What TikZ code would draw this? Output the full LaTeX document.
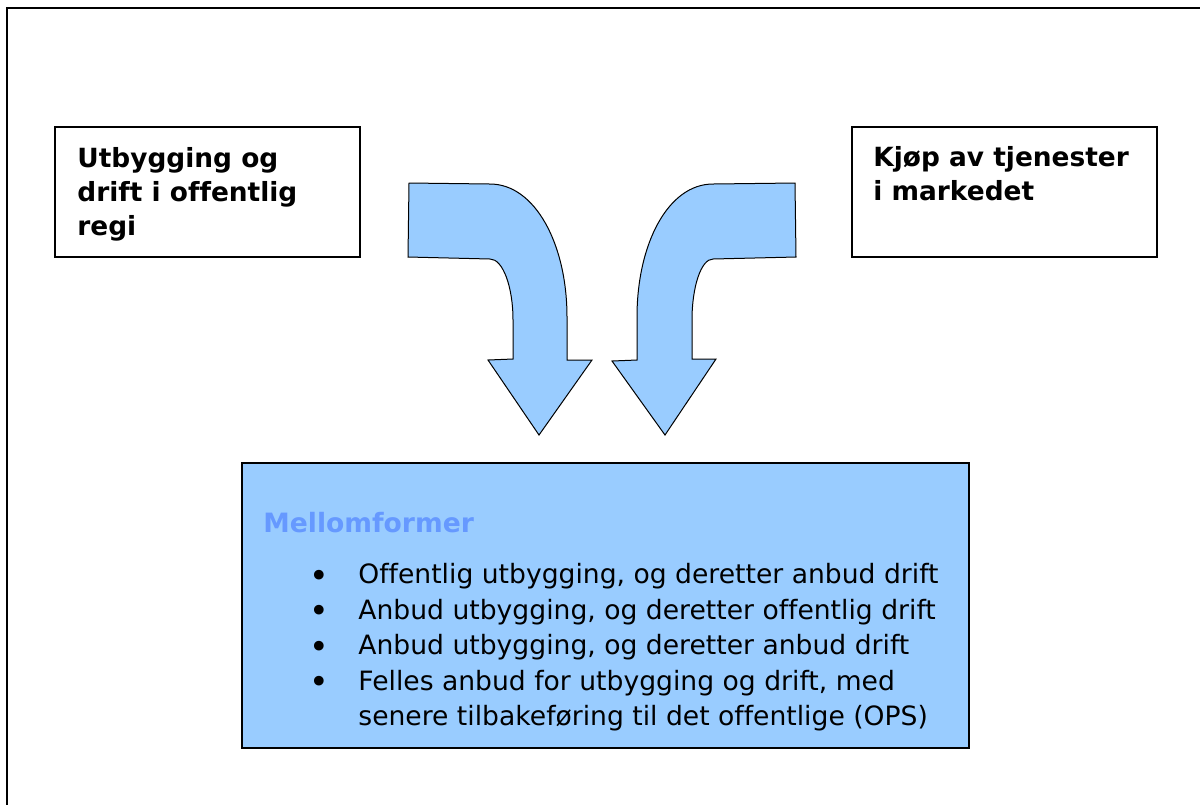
\documentclass[tikz,border=0pt]{standalone}
\usepackage{fontspec}
\setmainfont[Ligatures=NoCommon]{DejaVu Sans}

\definecolor{arrowblue}{HTML}{99CCFF}
\definecolor{titleblue}{HTML}{6699FF}

\newcommand{\bul}{\makebox[24.5pt][l]{\raisebox{-1.8pt}{\scalebox{1.25}{\textbullet}}}}

\tikzset{
  box/.style={draw=black, line width=0.75pt, rectangle, inner sep=0pt, anchor=north west},
  boxtext/.style={font=\bfseries\fontsize{13.2}{17}\selectfont, align=left, anchor=north west, inner sep=0pt},
  listtext/.style={font=\fontsize{13.3}{17.75}\selectfont, align=left, anchor=north west, inner sep=0pt},
  bendarrow/.style={draw=black, fill=arrowblue, line width=0.5pt, line join=miter},
}

\begin{document}
\begin{tikzpicture}[x=0.5pt, y=-0.5pt]
  \useasboundingbox (0,0) rectangle (1200,805);
  \draw[line width=1pt] (1200,8) -- (7,8) -- (7,805);

  \node[box, minimum width=152.5pt, minimum height=65pt] (offentlig) at (54,126) {};
  \node[boxtext] (offentligtext) at (77,147) {Utbygging og\\drift i offentlig\\regi};

  \node[box, minimum width=152.5pt, minimum height=65pt] (marked) at (851,126) {};
  \node[boxtext] (markedtext) at (873,146) {Kjøp av tjenester\\i markedet};

  \filldraw[bendarrow] (409,183) -- (490,184)
    .. controls (535,184) and (567,244) .. (567,317) -- (567,360) -- (592,360)
    -- (539,435) -- (488,360) -- (513,359) -- (513,320)
    .. controls (513,287) and (503,259) .. (490,259) -- (408,257) -- cycle;

  \filldraw[bendarrow] (795,183) -- (713,184)
    .. controls (668,184) and (637,244) .. (637,317) -- (637,360) -- (612,361)
    -- (665,435) -- (716,359) -- (692,359) -- (692,320)
    .. controls (692,287) and (701,259) .. (713,259) -- (796,257) -- cycle;

  \node[box, fill=arrowblue, minimum width=363.5pt, minimum height=142.5pt] (mellom) at (241,462) {};
  \node[boxtext, font=\bfseries\fontsize{13.3}{17}\selectfont, text=titleblue] (mellomtitle) at (263,512) {Mellomformer};
  \node[listtext] (formerlist) at (309,563) {\bul Offentlig utbygging, og deretter anbud drift\\
    \bul Anbud utbygging, og deretter offentlig drift\\
    \bul Anbud utbygging, og deretter anbud drift\\
    \bul Felles anbud for utbygging og drift, med\\
    \hphantom{\bul}senere tilbakeføring til det offentlige (OPS)};

\end{tikzpicture}
\end{document}
